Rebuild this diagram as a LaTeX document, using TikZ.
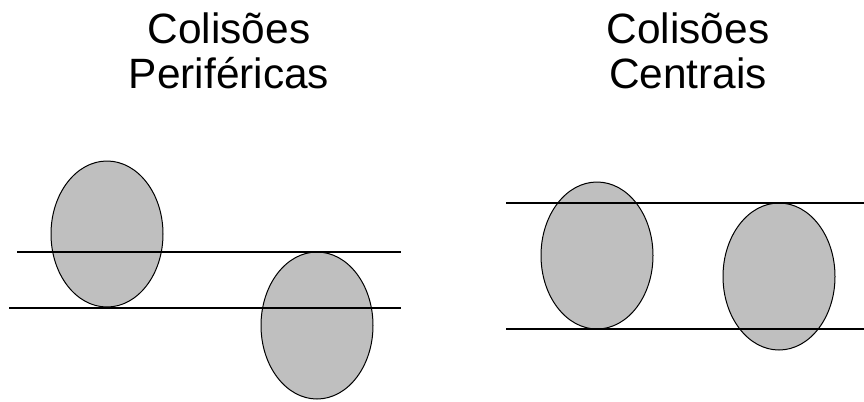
\documentclass[tikz,border=0pt]{standalone}
\usepackage{fontspec}
\setmainfont{Liberation Sans}
\usepackage{tikz}
\usetikzlibrary{positioning}
\definecolor{nucleusGray}{rgb}{0.75,0.75,0.75}

\begin{document}
\begin{tikzpicture}[x=0.75pt,y=-0.75pt]

          \tikzstyle{nucleus} = [draw=black, fill=nucleusGray, line width=0.75pt];
          \tikzstyle{beamLine} = [black, line width=0.8pt];
          \tikzstyle{titleText} = [font=\fontsize{31.8}{33.75}\selectfont, align=center, inner sep=0pt, anchor=north];

          \useasboundingbox (0,0) rectangle (864,401);

          \node[titleText] (periTitle) at (229,13) {Colisões\\Periféricas};
          \node[titleText] (centTitle) at (688,13) {Colisões\\Centrais};

          % peripheral collision
          \draw[nucleus] (107,234) ellipse [x radius=56, y radius=73];
          \draw[nucleus] (317,325.5) ellipse [x radius=56, y radius=73.5];
          \draw[beamLine] (17,252) -- (401,252);
          \draw[beamLine] (9,308) -- (401,308);

          % central collision
          \draw[nucleus] (597,255.5) ellipse [x radius=56, y radius=73.5];
          \draw[nucleus] (779,276.5) ellipse [x radius=56, y radius=73.5];
          \draw[beamLine] (506,203) -- (864,203);
          \draw[beamLine] (506,329) -- (864,329);
        \end{tikzpicture}
\end{document}
